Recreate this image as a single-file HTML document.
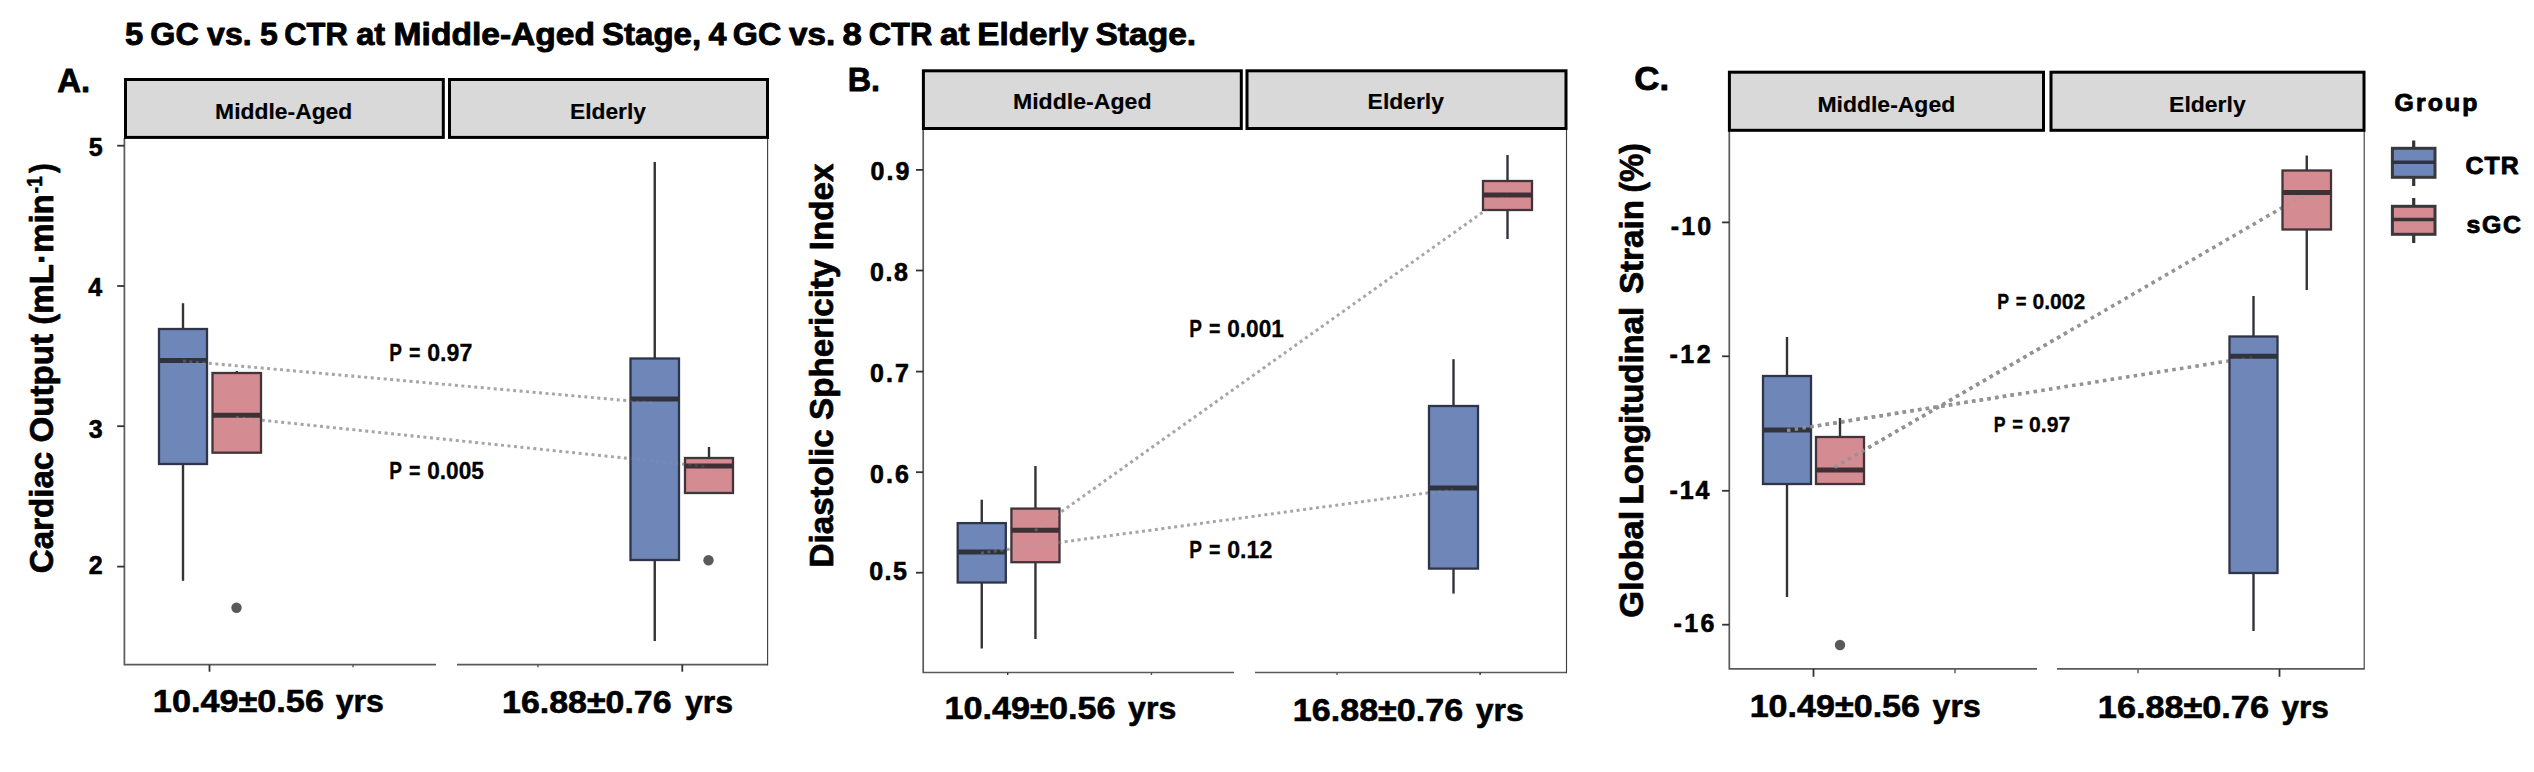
<!DOCTYPE html>
<html><head><meta charset="utf-8"><title>Figure</title>
<style>html,body{margin:0;padding:0;background:#fff}svg{display:block}</style></head>
<body>
<svg width="2534" height="772" viewBox="0 0 2534 772">
<rect width="2534" height="772" fill="#fff"/>
<text x="125.0" y="44.7" font-size="32" font-weight="bold" font-family="'Liberation Sans', sans-serif" stroke="#000" stroke-width="0.9" stroke-linejoin="round" textLength="18.22" lengthAdjust="spacingAndGlyphs">5</text>
<text x="150.39" y="44.7" font-size="32" font-weight="bold" font-family="'Liberation Sans', sans-serif" stroke="#000" stroke-width="0.9" stroke-linejoin="round" textLength="48.42" lengthAdjust="spacingAndGlyphs">GC</text>
<text x="207.1" y="44.7" font-size="32" font-weight="bold" font-family="'Liberation Sans', sans-serif" stroke="#000" stroke-width="0.9" stroke-linejoin="round" textLength="44.49" lengthAdjust="spacingAndGlyphs">vs.</text>
<text x="260.0" y="44.7" font-size="32" font-weight="bold" font-family="'Liberation Sans', sans-serif" stroke="#000" stroke-width="0.9" stroke-linejoin="round" textLength="17.8" lengthAdjust="spacingAndGlyphs">5</text>
<text x="284.23" y="44.7" font-size="32" font-weight="bold" font-family="'Liberation Sans', sans-serif" stroke="#000" stroke-width="0.9" stroke-linejoin="round" textLength="63.47" lengthAdjust="spacingAndGlyphs">CTR</text>
<text x="356.2" y="44.7" font-size="32" font-weight="bold" font-family="'Liberation Sans', sans-serif" stroke="#000" stroke-width="0.9" stroke-linejoin="round" textLength="28.95" lengthAdjust="spacingAndGlyphs">at</text>
<text x="393.6" y="44.7" font-size="32" font-weight="bold" font-family="'Liberation Sans', sans-serif" stroke="#000" stroke-width="0.9" stroke-linejoin="round" textLength="201.42" lengthAdjust="spacingAndGlyphs">Middle-Aged</text>
<text x="602.1" y="44.7" font-size="32" font-weight="bold" font-family="'Liberation Sans', sans-serif" stroke="#000" stroke-width="0.9" stroke-linejoin="round" textLength="99.05" lengthAdjust="spacingAndGlyphs">Stage,</text>
<text x="708.6" y="44.7" font-size="32" font-weight="bold" font-family="'Liberation Sans', sans-serif" stroke="#000" stroke-width="0.9" stroke-linejoin="round" textLength="17.99" lengthAdjust="spacingAndGlyphs">4</text>
<text x="732.89" y="44.7" font-size="32" font-weight="bold" font-family="'Liberation Sans', sans-serif" stroke="#000" stroke-width="0.9" stroke-linejoin="round" textLength="48.42" lengthAdjust="spacingAndGlyphs">GC</text>
<text x="789.1" y="44.7" font-size="32" font-weight="bold" font-family="'Liberation Sans', sans-serif" stroke="#000" stroke-width="0.9" stroke-linejoin="round" textLength="46.16" lengthAdjust="spacingAndGlyphs">vs.</text>
<text x="842.51" y="44.7" font-size="32" font-weight="bold" font-family="'Liberation Sans', sans-serif" stroke="#000" stroke-width="0.9" stroke-linejoin="round" textLength="19.35" lengthAdjust="spacingAndGlyphs">8</text>
<text x="868.73" y="44.7" font-size="32" font-weight="bold" font-family="'Liberation Sans', sans-serif" stroke="#000" stroke-width="0.9" stroke-linejoin="round" textLength="63.47" lengthAdjust="spacingAndGlyphs">CTR</text>
<text x="940.0" y="44.7" font-size="32" font-weight="bold" font-family="'Liberation Sans', sans-serif" stroke="#000" stroke-width="0.9" stroke-linejoin="round" textLength="29.64" lengthAdjust="spacingAndGlyphs">at</text>
<text x="977.32" y="44.7" font-size="32" font-weight="bold" font-family="'Liberation Sans', sans-serif" stroke="#000" stroke-width="0.9" stroke-linejoin="round" textLength="110.87" lengthAdjust="spacingAndGlyphs">Elderly</text>
<text x="1095.5" y="44.7" font-size="32" font-weight="bold" font-family="'Liberation Sans', sans-serif" stroke="#000" stroke-width="0.9" stroke-linejoin="round" textLength="100.58" lengthAdjust="spacingAndGlyphs">Stage.</text>
<path d="M124.4 138 V664.7 H436 M457 664.7 H767.6" fill="none" stroke="#5a5a5a" stroke-width="1.7"/>
<path d="M767.6 665.5 V138" fill="none" stroke="#404040" stroke-width="1.15"/>
<rect x="125.5" y="79.5" width="317.8" height="57.9" fill="#d9d9d9" stroke="#000" stroke-width="3"/>
<rect x="449.5" y="79.5" width="318.0" height="57.9" fill="#d9d9d9" stroke="#000" stroke-width="3"/>
<text x="215.14" y="118.8" font-size="21.5" font-weight="bold" font-family="'Liberation Sans', sans-serif" stroke="#000" stroke-width="0.15" stroke-linejoin="round" textLength="137.17" lengthAdjust="spacingAndGlyphs">Middle-Aged</text>
<text x="569.94" y="118.8" font-size="21.5" font-weight="bold" font-family="'Liberation Sans', sans-serif" stroke="#000" stroke-width="0.15" stroke-linejoin="round" textLength="76.01" lengthAdjust="spacingAndGlyphs">Elderly</text>
<line x1="117.2" y1="145.7" x2="124.4" y2="145.7" stroke="#333" stroke-width="1.8"/>
<text x="88.8" y="156.4" font-size="25" font-weight="bold" font-family="'Liberation Sans', sans-serif" stroke="#000" stroke-width="0.6" stroke-linejoin="round" textLength="13.21" lengthAdjust="spacing">5</text>
<line x1="117.2" y1="286" x2="124.4" y2="286" stroke="#333" stroke-width="1.8"/>
<text x="88.2" y="296" font-size="25" font-weight="bold" font-family="'Liberation Sans', sans-serif" stroke="#000" stroke-width="0.6" stroke-linejoin="round" textLength="14.4" lengthAdjust="spacing">4</text>
<line x1="117.2" y1="426.2" x2="124.4" y2="426.2" stroke="#333" stroke-width="1.8"/>
<text x="88.8" y="438" font-size="25" font-weight="bold" font-family="'Liberation Sans', sans-serif" stroke="#000" stroke-width="0.6" stroke-linejoin="round" textLength="14.22" lengthAdjust="spacing">3</text>
<line x1="117.2" y1="566.6" x2="124.4" y2="566.6" stroke="#333" stroke-width="1.8"/>
<text x="88.8" y="573.8" font-size="25" font-weight="bold" font-family="'Liberation Sans', sans-serif" stroke="#000" stroke-width="0.6" stroke-linejoin="round" textLength="14.22" lengthAdjust="spacing">2</text>
<line x1="209.5" y1="664.7" x2="209.5" y2="671.7" stroke="#333" stroke-width="1.8"/>
<line x1="682.3" y1="664.7" x2="682.3" y2="671.7" stroke="#333" stroke-width="1.8"/>
<line x1="353" y1="664.7" x2="353" y2="667.2" stroke="#555" stroke-width="1.4"/>
<line x1="538" y1="664.7" x2="538" y2="667.2" stroke="#555" stroke-width="1.4"/>
<text x="57.3" y="92.1" font-size="33" font-weight="bold" font-family="'Liberation Sans', sans-serif" stroke="#000" stroke-width="0.8" stroke-linejoin="round" textLength="32.86" lengthAdjust="spacingAndGlyphs">A.</text>
<text transform="translate(53.3,573.3) rotate(-90)" font-size="33" font-weight="bold" font-family="'Liberation Sans', sans-serif" stroke="#000" stroke-width="0.7" stroke-linejoin="round" textLength="379.17" lengthAdjust="spacingAndGlyphs">Cardiac Output (mL·min</text>
<text transform="translate(41.6,193.4) rotate(-90)" font-size="22.5" font-weight="bold" font-family="'Liberation Sans', sans-serif" stroke="#000" stroke-width="0.5" stroke-linejoin="round" textLength="17.24" lengthAdjust="spacingAndGlyphs">-1</text>
<text transform="translate(53.3,173.0) rotate(-90)" font-size="33" font-weight="bold" font-family="'Liberation Sans', sans-serif" stroke="#000" stroke-width="0.7" stroke-linejoin="round" textLength="9.67" lengthAdjust="spacingAndGlyphs">)</text>
<text x="152.86" y="712.1" font-size="32" font-weight="bold" font-family="'Liberation Sans', sans-serif" stroke="#000" stroke-width="0.6" stroke-linejoin="round" textLength="171.09" lengthAdjust="spacingAndGlyphs">10.49±0.56</text>
<text x="335.7" y="712.1" font-size="32" font-weight="bold" font-family="'Liberation Sans', sans-serif" stroke="#000" stroke-width="0.6" stroke-linejoin="round" textLength="48.2" lengthAdjust="spacingAndGlyphs">yrs</text>
<text x="502.08" y="712.9" font-size="32" font-weight="bold" font-family="'Liberation Sans', sans-serif" stroke="#000" stroke-width="0.6" stroke-linejoin="round" textLength="169.46" lengthAdjust="spacingAndGlyphs">16.88±0.76</text>
<text x="685.0" y="712.9" font-size="32" font-weight="bold" font-family="'Liberation Sans', sans-serif" stroke="#000" stroke-width="0.6" stroke-linejoin="round" textLength="48.1" lengthAdjust="spacingAndGlyphs">yrs</text>
<line x1="183" y1="361" x2="654" y2="403" stroke="#a6a6a6" stroke-width="2.9" stroke-dasharray="2.9 3.6" opacity="1"/>
<line x1="236" y1="417.5" x2="708" y2="466.7" stroke="#a6a6a6" stroke-width="2.9" stroke-dasharray="2.9 3.6" opacity="1"/>
<line x1="183.0" y1="303.2" x2="183.0" y2="329" stroke="#333338" stroke-width="2.4"/>
<line x1="183.0" y1="464" x2="183.0" y2="580.8" stroke="#333338" stroke-width="2.4"/>
<rect x="159" y="329" width="48" height="135" fill="#6f86b8" stroke="#2f3549" stroke-width="2.3"/>
<line x1="159" y1="360.5" x2="207" y2="360.5" stroke="#30323c" stroke-width="5"/>
<line x1="236.75" y1="371" x2="236.75" y2="373" stroke="#333338" stroke-width="2.4"/>
<rect x="212.5" y="373" width="48.5" height="79.7" fill="#d58b92" stroke="#41353a" stroke-width="2.3"/>
<line x1="212.5" y1="415.3" x2="261" y2="415.3" stroke="#3d3135" stroke-width="5"/>
<line x1="654.75" y1="162" x2="654.75" y2="358.5" stroke="#333338" stroke-width="2.4"/>
<line x1="654.75" y1="560" x2="654.75" y2="641" stroke="#333338" stroke-width="2.4"/>
<rect x="630.5" y="358.5" width="48.5" height="201.5" fill="#6f86b8" stroke="#2f3549" stroke-width="2.3"/>
<line x1="630.5" y1="399" x2="679" y2="399" stroke="#30323c" stroke-width="5"/>
<line x1="709.0" y1="447" x2="709.0" y2="458" stroke="#333338" stroke-width="2.4"/>
<rect x="685" y="458" width="48" height="35" fill="#d58b92" stroke="#41353a" stroke-width="2.3"/>
<line x1="685" y1="466" x2="733" y2="466" stroke="#3d3135" stroke-width="5"/>
<line x1="183" y1="361" x2="418.5" y2="382.0" stroke="#a6a6a6" stroke-width="2.9" stroke-dasharray="2.9 3.6" opacity="0.3"/>
<line x1="418.5" y1="382.0" x2="654" y2="403" stroke="#a6a6a6" stroke-width="2.9" stroke-dasharray="2.9 3.6" stroke-dashoffset="2.434" opacity="0.15"/>
<line x1="236" y1="417.5" x2="472.0" y2="442.1" stroke="#a6a6a6" stroke-width="2.9" stroke-dasharray="2.9 3.6" opacity="0.3"/>
<line x1="472.0" y1="442.1" x2="708" y2="466.7" stroke="#a6a6a6" stroke-width="2.9" stroke-dasharray="2.9 3.6" stroke-dashoffset="3.279" opacity="0.15"/>
<circle cx="236.5" cy="607.7" r="5.2" fill="#5a5a5a"/>
<circle cx="708.5" cy="560.2" r="5.2" fill="#5a5a5a"/>
<text x="389.28" y="361.2" font-size="23.2" font-weight="bold" font-family="'Liberation Sans', sans-serif" stroke="#000" stroke-width="0.3" stroke-linejoin="round" textLength="12.7" lengthAdjust="spacingAndGlyphs">P</text>
<text x="409.1" y="361.2" font-size="23.2" font-weight="bold" font-family="'Liberation Sans', sans-serif" stroke="#000" stroke-width="0.3" stroke-linejoin="round" textLength="11.46" lengthAdjust="spacingAndGlyphs">=</text>
<text x="427.2" y="361.2" font-size="23.2" font-weight="bold" font-family="'Liberation Sans', sans-serif" stroke="#000" stroke-width="0.3" stroke-linejoin="round" textLength="45.1" lengthAdjust="spacingAndGlyphs">0.97</text>
<text x="389.28" y="478.5" font-size="23.2" font-weight="bold" font-family="'Liberation Sans', sans-serif" stroke="#000" stroke-width="0.3" stroke-linejoin="round" textLength="12.7" lengthAdjust="spacingAndGlyphs">P</text>
<text x="409.1" y="478.5" font-size="23.2" font-weight="bold" font-family="'Liberation Sans', sans-serif" stroke="#000" stroke-width="0.3" stroke-linejoin="round" textLength="11.46" lengthAdjust="spacingAndGlyphs">=</text>
<text x="427.2" y="478.5" font-size="23.2" font-weight="bold" font-family="'Liberation Sans', sans-serif" stroke="#000" stroke-width="0.3" stroke-linejoin="round" textLength="56.7" lengthAdjust="spacingAndGlyphs">0.005</text>
<path d="M923.2 128 V672.5 H1234 M1255 672.5 H1566.5" fill="none" stroke="#5a5a5a" stroke-width="1.7"/>
<path d="M1566.5 673.3 V128" fill="none" stroke="#404040" stroke-width="1.15"/>
<rect x="923.4" y="70.8" width="317.9" height="57.7" fill="#d9d9d9" stroke="#000" stroke-width="3"/>
<rect x="1247" y="70.8" width="319" height="57.7" fill="#d9d9d9" stroke="#000" stroke-width="3"/>
<text x="1012.92" y="109" font-size="21.5" font-weight="bold" font-family="'Liberation Sans', sans-serif" stroke="#000" stroke-width="0.15" stroke-linejoin="round" textLength="138.69" lengthAdjust="spacingAndGlyphs">Middle-Aged</text>
<text x="1367.64" y="108.8" font-size="21.5" font-weight="bold" font-family="'Liberation Sans', sans-serif" stroke="#000" stroke-width="0.15" stroke-linejoin="round" textLength="76.32" lengthAdjust="spacingAndGlyphs">Elderly</text>
<line x1="916.0" y1="169.9" x2="923.2" y2="169.9" stroke="#333" stroke-width="1.8"/>
<text x="870.5" y="180" font-size="25" font-weight="bold" font-family="'Liberation Sans', sans-serif" stroke="#000" stroke-width="0.6" stroke-linejoin="round" textLength="39.01" lengthAdjust="spacing">0.9</text>
<line x1="916.0" y1="270.5" x2="923.2" y2="270.5" stroke="#333" stroke-width="1.8"/>
<text x="870.1" y="280.7" font-size="25" font-weight="bold" font-family="'Liberation Sans', sans-serif" stroke="#000" stroke-width="0.6" stroke-linejoin="round" textLength="37.8" lengthAdjust="spacing">0.8</text>
<line x1="916.0" y1="371.6" x2="923.2" y2="371.6" stroke="#333" stroke-width="1.8"/>
<text x="870.1" y="382" font-size="25" font-weight="bold" font-family="'Liberation Sans', sans-serif" stroke="#000" stroke-width="0.6" stroke-linejoin="round" textLength="38.91" lengthAdjust="spacing">0.7</text>
<line x1="916.0" y1="472.2" x2="923.2" y2="472.2" stroke="#333" stroke-width="1.8"/>
<text x="870.1" y="483" font-size="25" font-weight="bold" font-family="'Liberation Sans', sans-serif" stroke="#000" stroke-width="0.6" stroke-linejoin="round" textLength="38.91" lengthAdjust="spacing">0.6</text>
<line x1="916.0" y1="572.7" x2="923.2" y2="572.7" stroke="#333" stroke-width="1.8"/>
<text x="869.2" y="579.8" font-size="25" font-weight="bold" font-family="'Liberation Sans', sans-serif" stroke="#000" stroke-width="0.6" stroke-linejoin="round" textLength="37.7" lengthAdjust="spacing">0.5</text>
<line x1="1007.7" y1="672.5" x2="1007.7" y2="675.0" stroke="#333" stroke-width="1.4"/>
<line x1="1480.1" y1="672.5" x2="1480.1" y2="675.0" stroke="#333" stroke-width="1.4"/>
<line x1="1151.4" y1="672.5" x2="1151.4" y2="675.0" stroke="#555" stroke-width="1.4"/>
<line x1="1337" y1="672.5" x2="1337" y2="675.0" stroke="#555" stroke-width="1.4"/>
<text x="847.64" y="90.6" font-size="33" font-weight="bold" font-family="'Liberation Sans', sans-serif" stroke="#000" stroke-width="0.8" stroke-linejoin="round" textLength="32.39" lengthAdjust="spacingAndGlyphs">B.</text>
<text transform="translate(833.1,567.51) rotate(-90)" font-size="33" font-weight="bold" font-family="'Liberation Sans', sans-serif" stroke="#000" stroke-width="0.7" stroke-linejoin="round" textLength="403.86" lengthAdjust="spacingAndGlyphs">Diastolic Sphericity Index</text>
<text x="944.46" y="718.7" font-size="32" font-weight="bold" font-family="'Liberation Sans', sans-serif" stroke="#000" stroke-width="0.6" stroke-linejoin="round" textLength="171.09" lengthAdjust="spacingAndGlyphs">10.49±0.56</text>
<text x="1128.1" y="718.7" font-size="32" font-weight="bold" font-family="'Liberation Sans', sans-serif" stroke="#000" stroke-width="0.6" stroke-linejoin="round" textLength="48.2" lengthAdjust="spacingAndGlyphs">yrs</text>
<text x="1292.87" y="721" font-size="32" font-weight="bold" font-family="'Liberation Sans', sans-serif" stroke="#000" stroke-width="0.6" stroke-linejoin="round" textLength="170.28" lengthAdjust="spacingAndGlyphs">16.88±0.76</text>
<text x="1475.7" y="721" font-size="32" font-weight="bold" font-family="'Liberation Sans', sans-serif" stroke="#000" stroke-width="0.6" stroke-linejoin="round" textLength="48.2" lengthAdjust="spacingAndGlyphs">yrs</text>
<line x1="981" y1="553" x2="1453" y2="489.5" stroke="#a6a6a6" stroke-width="2.9" stroke-dasharray="2.9 3.6" opacity="1"/>
<line x1="1035" y1="530.5" x2="1507" y2="195" stroke="#a6a6a6" stroke-width="2.9" stroke-dasharray="2.9 3.6" opacity="1"/>
<line x1="981.75" y1="499.7" x2="981.75" y2="523.1" stroke="#333338" stroke-width="2.4"/>
<line x1="981.75" y1="582.5" x2="981.75" y2="648.5" stroke="#333338" stroke-width="2.4"/>
<rect x="957.7" y="523.1" width="48.1" height="59.4" fill="#6f86b8" stroke="#2f3549" stroke-width="2.3"/>
<line x1="957.7" y1="552.1" x2="1005.8" y2="552.1" stroke="#30323c" stroke-width="5"/>
<line x1="1035.45" y1="466" x2="1035.45" y2="508.6" stroke="#333338" stroke-width="2.4"/>
<line x1="1035.45" y1="562.2" x2="1035.45" y2="639" stroke="#333338" stroke-width="2.4"/>
<rect x="1011.4" y="508.6" width="48.1" height="53.6" fill="#d58b92" stroke="#41353a" stroke-width="2.3"/>
<line x1="1011.4" y1="530.2" x2="1059.5" y2="530.2" stroke="#3d3135" stroke-width="5"/>
<line x1="1453.5" y1="359.2" x2="1453.5" y2="406" stroke="#333338" stroke-width="2.4"/>
<line x1="1453.5" y1="568.6" x2="1453.5" y2="593.6" stroke="#333338" stroke-width="2.4"/>
<rect x="1429" y="406" width="49" height="162.6" fill="#6f86b8" stroke="#2f3549" stroke-width="2.3"/>
<line x1="1429" y1="488" x2="1478" y2="488" stroke="#30323c" stroke-width="5"/>
<line x1="1507.5" y1="155" x2="1507.5" y2="181" stroke="#333338" stroke-width="2.4"/>
<line x1="1507.5" y1="210" x2="1507.5" y2="239" stroke="#333338" stroke-width="2.4"/>
<rect x="1483" y="181" width="49" height="29" fill="#d58b92" stroke="#41353a" stroke-width="2.3"/>
<line x1="1483" y1="195" x2="1532" y2="195" stroke="#3d3135" stroke-width="5"/>
<line x1="981" y1="553" x2="1217.0" y2="521.25" stroke="#a6a6a6" stroke-width="2.9" stroke-dasharray="2.9 3.6" opacity="0.35"/>
<line x1="1217.0" y1="521.25" x2="1453" y2="489.5" stroke="#a6a6a6" stroke-width="2.9" stroke-dasharray="2.9 3.6" stroke-dashoffset="4.126" opacity="0.15"/>
<line x1="1035" y1="530.5" x2="1271.0" y2="362.75" stroke="#a6a6a6" stroke-width="2.9" stroke-dasharray="2.9 3.6" opacity="0.35"/>
<line x1="1271.0" y1="362.75" x2="1507" y2="195" stroke="#a6a6a6" stroke-width="2.9" stroke-dasharray="2.9 3.6" stroke-dashoffset="3.545" opacity="0.15"/>
<text x="1189.28" y="337" font-size="23.2" font-weight="bold" font-family="'Liberation Sans', sans-serif" stroke="#000" stroke-width="0.3" stroke-linejoin="round" textLength="12.7" lengthAdjust="spacingAndGlyphs">P</text>
<text x="1209.1" y="337" font-size="23.2" font-weight="bold" font-family="'Liberation Sans', sans-serif" stroke="#000" stroke-width="0.3" stroke-linejoin="round" textLength="11.46" lengthAdjust="spacingAndGlyphs">=</text>
<text x="1227.2" y="337" font-size="23.2" font-weight="bold" font-family="'Liberation Sans', sans-serif" stroke="#000" stroke-width="0.3" stroke-linejoin="round" textLength="56.7" lengthAdjust="spacingAndGlyphs">0.001</text>
<text x="1189.28" y="558.3" font-size="23.2" font-weight="bold" font-family="'Liberation Sans', sans-serif" stroke="#000" stroke-width="0.3" stroke-linejoin="round" textLength="12.7" lengthAdjust="spacingAndGlyphs">P</text>
<text x="1209.1" y="558.3" font-size="23.2" font-weight="bold" font-family="'Liberation Sans', sans-serif" stroke="#000" stroke-width="0.3" stroke-linejoin="round" textLength="11.46" lengthAdjust="spacingAndGlyphs">=</text>
<text x="1227.2" y="558.3" font-size="23.2" font-weight="bold" font-family="'Liberation Sans', sans-serif" stroke="#000" stroke-width="0.3" stroke-linejoin="round" textLength="45.1" lengthAdjust="spacingAndGlyphs">0.12</text>
<path d="M1729.3 130 V668.8 H2037 M2057 668.8 H2364.2" fill="none" stroke="#5a5a5a" stroke-width="1.7"/>
<path d="M2364.2 669.5999999999999 V130" fill="none" stroke="#404040" stroke-width="1.15"/>
<rect x="1729.4" y="72.2" width="314.1" height="58.1" fill="#d9d9d9" stroke="#000" stroke-width="3"/>
<rect x="2051" y="72.2" width="313" height="58.1" fill="#d9d9d9" stroke="#000" stroke-width="3"/>
<text x="1817.43" y="111.5" font-size="21.5" font-weight="bold" font-family="'Liberation Sans', sans-serif" stroke="#000" stroke-width="0.15" stroke-linejoin="round" textLength="137.78" lengthAdjust="spacingAndGlyphs">Middle-Aged</text>
<text x="2169.13" y="111.8" font-size="21.5" font-weight="bold" font-family="'Liberation Sans', sans-serif" stroke="#000" stroke-width="0.15" stroke-linejoin="round" textLength="76.52" lengthAdjust="spacingAndGlyphs">Elderly</text>
<line x1="1722.1" y1="222.4" x2="1729.3" y2="222.4" stroke="#333" stroke-width="1.8"/>
<text x="1670.7" y="234.7" font-size="25" font-weight="bold" font-family="'Liberation Sans', sans-serif" stroke="#000" stroke-width="0.6" stroke-linejoin="round" textLength="40.51" lengthAdjust="spacing">-10</text>
<line x1="1722.1" y1="356.3" x2="1729.3" y2="356.3" stroke="#333" stroke-width="1.8"/>
<text x="1669.4" y="362.7" font-size="25" font-weight="bold" font-family="'Liberation Sans', sans-serif" stroke="#000" stroke-width="0.6" stroke-linejoin="round" textLength="41.23" lengthAdjust="spacing">-12</text>
<line x1="1722.1" y1="490.8" x2="1729.3" y2="490.8" stroke="#333" stroke-width="1.8"/>
<text x="1669.4" y="499.2" font-size="25" font-weight="bold" font-family="'Liberation Sans', sans-serif" stroke="#000" stroke-width="0.6" stroke-linejoin="round" textLength="40.09" lengthAdjust="spacing">-14</text>
<line x1="1722.1" y1="624.7" x2="1729.3" y2="624.7" stroke="#333" stroke-width="1.8"/>
<text x="1673.6" y="631.8" font-size="25" font-weight="bold" font-family="'Liberation Sans', sans-serif" stroke="#000" stroke-width="0.6" stroke-linejoin="round" textLength="40.92" lengthAdjust="spacing">-16</text>
<line x1="1813.5" y1="668.8" x2="1813.5" y2="676.8" stroke="#333" stroke-width="1.8"/>
<line x1="2279.5" y1="668.8" x2="2279.5" y2="676.8" stroke="#333" stroke-width="1.8"/>
<line x1="1955" y1="668.8" x2="1955" y2="673.3" stroke="#555" stroke-width="1.4"/>
<line x1="2138" y1="668.8" x2="2138" y2="673.3" stroke="#555" stroke-width="1.4"/>
<text x="1634.24" y="90.2" font-size="33" font-weight="bold" font-family="'Liberation Sans', sans-serif" stroke="#000" stroke-width="0.8" stroke-linejoin="round" textLength="34.96" lengthAdjust="spacingAndGlyphs">C.</text>
<text transform="translate(1643.1,617.84) rotate(-90)" font-size="33" font-weight="bold" font-family="'Liberation Sans', sans-serif" stroke="#000" stroke-width="0.7" stroke-linejoin="round" textLength="107.21" lengthAdjust="spacingAndGlyphs">Global</text>
<text transform="translate(1643.1,504.5) rotate(-90)" font-size="33" font-weight="bold" font-family="'Liberation Sans', sans-serif" stroke="#000" stroke-width="0.7" stroke-linejoin="round" textLength="197.66" lengthAdjust="spacingAndGlyphs">Longitudinal</text>
<text transform="translate(1643.1,294.1) rotate(-90)" font-size="33" font-weight="bold" font-family="'Liberation Sans', sans-serif" stroke="#000" stroke-width="0.7" stroke-linejoin="round" textLength="94.06" lengthAdjust="spacingAndGlyphs">Strain</text>
<text transform="translate(1643.1,192.46) rotate(-90)" font-size="33" font-weight="bold" font-family="'Liberation Sans', sans-serif" stroke="#000" stroke-width="0.7" stroke-linejoin="round" textLength="49.21" lengthAdjust="spacingAndGlyphs">(%)</text>
<text x="1749.67" y="716.8" font-size="32" font-weight="bold" font-family="'Liberation Sans', sans-serif" stroke="#000" stroke-width="0.6" stroke-linejoin="round" textLength="170.38" lengthAdjust="spacingAndGlyphs">10.49±0.56</text>
<text x="1932.6" y="716.8" font-size="32" font-weight="bold" font-family="'Liberation Sans', sans-serif" stroke="#000" stroke-width="0.6" stroke-linejoin="round" textLength="48.1" lengthAdjust="spacingAndGlyphs">yrs</text>
<text x="2097.86" y="717.6" font-size="32" font-weight="bold" font-family="'Liberation Sans', sans-serif" stroke="#000" stroke-width="0.6" stroke-linejoin="round" textLength="171.09" lengthAdjust="spacingAndGlyphs">16.88±0.76</text>
<text x="2281.5" y="717.6" font-size="32" font-weight="bold" font-family="'Liberation Sans', sans-serif" stroke="#000" stroke-width="0.6" stroke-linejoin="round" textLength="47.39" lengthAdjust="spacingAndGlyphs">yrs</text>
<line x1="1787" y1="430.5" x2="2254" y2="357" stroke="#939393" stroke-width="3.5" stroke-dasharray="3.5 4.3" opacity="1"/>
<line x1="1834.5" y1="467.3" x2="2304" y2="195" stroke="#939393" stroke-width="3.5" stroke-dasharray="3.5 4.3" opacity="1"/>
<line x1="1787.0" y1="337" x2="1787.0" y2="376" stroke="#333338" stroke-width="2.4"/>
<line x1="1787.0" y1="484" x2="1787.0" y2="597" stroke="#333338" stroke-width="2.4"/>
<rect x="1763" y="376" width="48" height="108" fill="#6f86b8" stroke="#2f3549" stroke-width="2.3"/>
<line x1="1763" y1="430" x2="1811" y2="430" stroke="#30323c" stroke-width="5"/>
<line x1="1840.0" y1="418" x2="1840.0" y2="437" stroke="#333338" stroke-width="2.4"/>
<rect x="1816" y="437" width="48" height="47" fill="#d58b92" stroke="#41353a" stroke-width="2.3"/>
<line x1="1816" y1="470" x2="1864" y2="470" stroke="#3d3135" stroke-width="5"/>
<line x1="2253.5" y1="296" x2="2253.5" y2="336.5" stroke="#333338" stroke-width="2.4"/>
<line x1="2253.5" y1="573" x2="2253.5" y2="631" stroke="#333338" stroke-width="2.4"/>
<rect x="2229.5" y="336.5" width="48.0" height="236.5" fill="#6f86b8" stroke="#2f3549" stroke-width="2.3"/>
<line x1="2229.5" y1="356.3" x2="2277.5" y2="356.3" stroke="#30323c" stroke-width="5"/>
<line x1="2306.75" y1="155.5" x2="2306.75" y2="170.5" stroke="#333338" stroke-width="2.4"/>
<line x1="2306.75" y1="229.5" x2="2306.75" y2="290" stroke="#333338" stroke-width="2.4"/>
<rect x="2282.5" y="170.5" width="48.5" height="59.0" fill="#d58b92" stroke="#41353a" stroke-width="2.3"/>
<line x1="2282.5" y1="192.5" x2="2331" y2="192.5" stroke="#3d3135" stroke-width="5"/>
<line x1="1787" y1="430.5" x2="2020.5" y2="393.75" stroke="#939393" stroke-width="3.5" stroke-dasharray="3.5 4.3" opacity="0.9"/>
<line x1="2020.5" y1="393.75" x2="2254" y2="357" stroke="#939393" stroke-width="3.5" stroke-dasharray="3.5 4.3" stroke-dashoffset="2.374" opacity="0.15"/>
<line x1="1834.5" y1="467.3" x2="2069.25" y2="331.15" stroke="#939393" stroke-width="3.5" stroke-dasharray="3.5 4.3" opacity="0.9"/>
<line x1="2069.25" y1="331.15" x2="2304" y2="195" stroke="#939393" stroke-width="3.5" stroke-dasharray="3.5 4.3" stroke-dashoffset="6.175" opacity="0.15"/>
<circle cx="1840" cy="645" r="5.2" fill="#5a5a5a"/>
<text x="1997.18" y="308.6" font-size="21.58" font-weight="bold" font-family="'Liberation Sans', sans-serif" stroke="#000" stroke-width="0.3" stroke-linejoin="round" textLength="11.84" lengthAdjust="spacingAndGlyphs">P</text>
<text x="2015.67" y="308.6" font-size="21.58" font-weight="bold" font-family="'Liberation Sans', sans-serif" stroke="#000" stroke-width="0.3" stroke-linejoin="round" textLength="10.74" lengthAdjust="spacingAndGlyphs">=</text>
<text x="2032.5" y="308.6" font-size="21.58" font-weight="bold" font-family="'Liberation Sans', sans-serif" stroke="#000" stroke-width="0.3" stroke-linejoin="round" textLength="52.82" lengthAdjust="spacingAndGlyphs">0.002</text>
<text x="1993.78" y="432" font-size="21.58" font-weight="bold" font-family="'Liberation Sans', sans-serif" stroke="#000" stroke-width="0.3" stroke-linejoin="round" textLength="11.84" lengthAdjust="spacingAndGlyphs">P</text>
<text x="2012.27" y="432" font-size="21.58" font-weight="bold" font-family="'Liberation Sans', sans-serif" stroke="#000" stroke-width="0.3" stroke-linejoin="round" textLength="10.74" lengthAdjust="spacingAndGlyphs">=</text>
<text x="2029.1" y="432" font-size="21.58" font-weight="bold" font-family="'Liberation Sans', sans-serif" stroke="#000" stroke-width="0.3" stroke-linejoin="round" textLength="41.11" lengthAdjust="spacingAndGlyphs">0.97</text>
<text x="2394.59" y="110.6" font-size="24.8" font-weight="bold" font-family="'Liberation Sans', sans-serif" stroke="#000" stroke-width="0.9" stroke-linejoin="round" textLength="82.88" lengthAdjust="spacing">Group</text>
<line x1="2413.7" y1="140.5" x2="2413.7" y2="148.3" stroke="#333338" stroke-width="3.2"/>
<line x1="2413.7" y1="177.3" x2="2413.7" y2="186" stroke="#333338" stroke-width="3.2"/>
<rect x="2392.4" y="148.3" width="42.6" height="29.0" fill="#6f86b8" stroke="#38383d" stroke-width="3"/>
<line x1="2392.4" y1="162.3" x2="2435" y2="162.3" stroke="#30323c" stroke-width="3.4"/>
<line x1="2413.7" y1="198" x2="2413.7" y2="206.3" stroke="#333338" stroke-width="3.2"/>
<line x1="2413.7" y1="234.3" x2="2413.7" y2="243" stroke="#333338" stroke-width="3.2"/>
<rect x="2392.4" y="206.3" width="42.6" height="28.0" fill="#d58b92" stroke="#38383d" stroke-width="3"/>
<line x1="2392.4" y1="219.5" x2="2435" y2="219.5" stroke="#3d3135" stroke-width="3.4"/>
<text x="2465.56" y="174.4" font-size="24.8" font-weight="bold" font-family="'Liberation Sans', sans-serif" stroke="#000" stroke-width="0.9" stroke-linejoin="round" textLength="53.15" lengthAdjust="spacing">CTR</text>
<text x="2466.6" y="232.7" font-size="24.8" font-weight="bold" font-family="'Liberation Sans', sans-serif" stroke="#000" stroke-width="0.9" stroke-linejoin="round" textLength="54.3" lengthAdjust="spacing">sGC</text>
</svg>
</body></html>
